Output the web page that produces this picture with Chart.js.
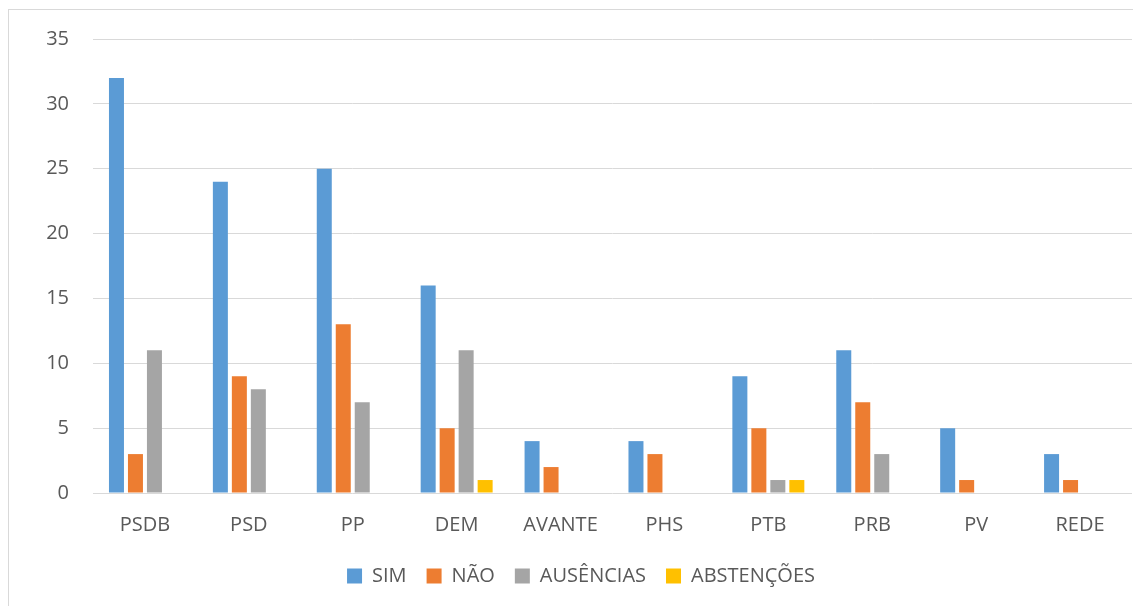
<!DOCTYPE html>
<html>
<head>
<meta charset="utf-8">
<script src="https://cdn.jsdelivr.net/npm/chart.js@4/dist/chart.umd.min.js"></script>
<style>
  html, body { margin: 0; padding: 0; background: #ffffff; overflow: hidden; }
  #wrap { position: relative; width: 1133px; height: 606px; }
  #frame { position: absolute; left: 8px; top: 9px; width: 1300px; height: 800px; border: 1px solid #d9d9d9; box-sizing: border-box; }
  #c { position: absolute; left: 0; top: 0; }
</style>
</head>
<body>
<div id="wrap">
  <div id="frame"></div>
  <canvas id="c" width="1133" height="606"></canvas>
</div>
<script>
const categories = ["PSDB", "PSD", "PP", "DEM", "AVANTE", "PHS", "PTB", "PRB", "PV", "REDE"];
const seriesNames = ["SIM", "NÃO", "AUSÊNCIAS", "ABSTENÇÕES"];
const sim        = [32, 24, 25, 16, 4, 4, 9, 11, 5, 3];
const nao        = [3, 9, 13, 5, 2, 3, 5, 7, 1, 1];
const ausencias  = [11, 8, 7, 11, 0, 0, 1, 3, 0, 0];
const abstencoes = [0, 0, 0, 1, 0, 0, 1, 0, 0, 0];
const yTicks = [0, 5, 10, 15, 20, 25, 30, 35];

const colors = ["#5b9bd5", "#ed7d31", "#a5a5a5", "#ffc000"];
const values = [sim, nao, ausencias, abstencoes];
const FONT = "'Open Sans', sans-serif";
const TXT = "#595959";

new Chart(document.getElementById('c'), {
  type: 'bar',
  data: {
    labels: categories,
    datasets: values.map((v, i) => ({
      label: seriesNames[i],
      data: v,
      backgroundColor: colors[i],
      borderWidth: 0,
      categoryPercentage: 0.731,
      barPercentage: 0.79
    }))
  },
  options: {
    responsive: false,
    animation: false,
    events: [],
    layout: { padding: { left: 30, top: 39, right: 1, bottom: 10 } },
    plugins: {
      tooltip: { enabled: false },
      legend: {
        position: 'bottom',
        labels: {
          boxWidth: 15,
          boxHeight: 15,
          padding: 20,
          color: TXT,
          font: { family: FONT, size: 20 }
        }
      }
    },
    scales: {
      x: {
        grid: { display: false, drawTicks: false },
        border: { display: false },
        ticks: { color: TXT, font: { family: FONT, size: 20 }, padding: 20 },
        afterFit: s => { s.height = 53; }
      },
      y: {
        min: 0,
        max: 35,
        afterBuildTicks: s => { s.ticks = yTicks.map(v => ({ value: v })); },
        grid: { color: "#d9d9d9", lineWidth: 1, drawTicks: false },
        border: { display: false },
        ticks: { color: TXT, font: { family: FONT, size: 20 }, padding: 24 },
        afterFit: s => { s.width = 63; }
      }
    }
  }
});
</script>
</body>
</html>
